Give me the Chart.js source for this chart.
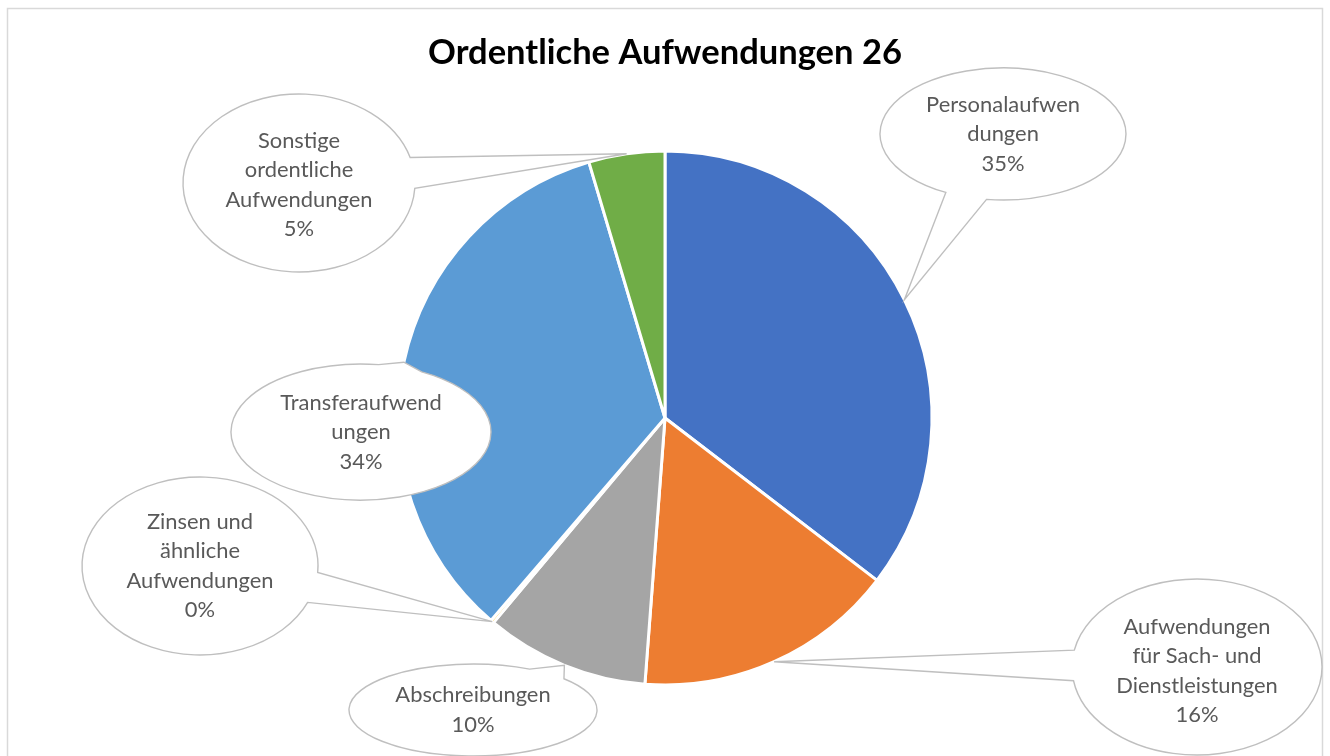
<!DOCTYPE html>
<html>
<head>
<meta charset="utf-8">
<script src="https://cdn.jsdelivr.net/npm/chart.js@4/dist/chart.umd.min.js"></script>
<style>
  html, body { margin: 0; padding: 0; background: #ffffff; }
  #wrap { width: 1330px; height: 756px; }
</style>
</head>
<body>
<div id="wrap"><canvas id="c" width="1330" height="756"></canvas></div>
<script>
// ---- data ----
const chartTitle = 'Ordentliche Aufwendungen 26';
const categories = [
  'Personalaufwendungen',
  'Aufwendungen für Sach- und Dienstleistungen',
  'Abschreibungen',
  'Zinsen und ähnliche Aufwendungen',
  'Transferaufwendungen',
  'Sonstige ordentliche Aufwendungen'
];
const shares = [35.4, 15.8, 9.9, 0.2, 34.1, 4.6];
const labelLines = [
  ['Personalaufwen', 'dungen'],
  ['Aufwendungen', 'für Sach- und', 'Dienstleistungen'],
  ['Abschreibungen'],
  ['Zinsen und', 'ähnliche', 'Aufwendungen'],
  ['Transferaufwend', 'ungen'],
  ['Sonstige', 'ordentliche', 'Aufwendungen']
];

// ---- styles / layout ----
const sliceColors = ['#4472C4', '#ED7D31', '#A5A5A5', '#FFC000', '#5B9BD5', '#70AD47'];
const calloutBoxes = [
  { cx: 1003, cy: 134, rx: 123, ry: 66 },
  { cx: 1197, cy: 667, rx: 125, ry: 88, dy: 4 },
  { cx: 473,  cy: 710, rx: 124, ry: 46 },
  { cx: 200,  cy: 566, rx: 118, ry: 89 },
  { cx: 361,  cy: 432, rx: 130, ry: 68 },
  { cx: 299,  cy: 183, rx: 116, ry: 89, dy: 2 }
];
const FONT = 'Lato';

function fitSize(text, weight, targetW) {
  const m = document.createElement('canvas').getContext('2d');
  m.font = weight + ' 100px ' + FONT;
  return 100 * targetW / m.measureText(text).width;
}
const titleSize = fitSize(chartTitle, 'bold', 474);
const labelSize = fitSize('Aufwendungen', 'normal', 147);

const framePlugin = {
  id: 'frame',
  beforeDraw(chart) {
    const ctx = chart.ctx;
    ctx.save();
    ctx.fillStyle = '#ffffff';
    ctx.fillRect(0, 0, chart.width, chart.height);
    ctx.strokeStyle = '#d9d9d9';
    ctx.lineWidth = 1.5;
    ctx.strokeRect(7.5, 8.5, 1315, 800);
    ctx.restore();
  }
};

const calloutPlugin = {
  id: 'callouts',
  afterDatasetsDraw(chart) {
    const ctx = chart.ctx;
    const meta = chart.getDatasetMeta(0);
    const vals = chart.data.datasets[0].data;
    const total = vals.reduce((a, b) => a + b, 0);
    ctx.save();
    meta.data.forEach((arc, i) => {
      const p = arc.getProps(['x', 'y', 'startAngle', 'endAngle', 'outerRadius'], true);
      const mid = (p.startAngle + p.endAngle) / 2;
      const tx = p.x + Math.cos(mid) * p.outerRadius;
      const ty = p.y + Math.sin(mid) * p.outerRadius;
      const b = calloutBoxes[i];
      const th = Math.atan2((ty - b.cy) / b.ry, (tx - b.cx) / b.rx);
      const d = 10 * Math.PI / 180;
      ctx.beginPath();
      ctx.ellipse(b.cx, b.cy, b.rx, b.ry, 0, th + d, th - d + 2 * Math.PI);
      ctx.lineTo(tx, ty);
      ctx.closePath();
      ctx.fillStyle = '#ffffff';
      ctx.fill();
      ctx.strokeStyle = '#bfbfbf';
      ctx.lineWidth = 1.4;
      ctx.lineJoin = 'miter';
      ctx.stroke();

      const lines = labelLines[i].concat([Math.round(vals[i] / total * 100) + '%']);
      const lh = 29.5;
      ctx.fillStyle = '#595959';
      ctx.font = labelSize.toFixed(2) + 'px ' + FONT;
      ctx.textAlign = 'center';
      ctx.textBaseline = 'middle';
      const y0 = b.cy + (b.dy || 0) - (lines.length - 1) * lh / 2;
      lines.forEach((t, k) => ctx.fillText(t, b.cx, y0 + k * lh));
    });
    ctx.restore();
  }
};

new Chart(document.getElementById('c'), {
  type: 'pie',
  data: {
    labels: categories,
    datasets: [{
      data: shares,
      backgroundColor: sliceColors,
      borderColor: '#ffffff',
      borderWidth: 3,
      radius: 267
    }]
  },
  options: {
    responsive: false,
    animation: false,
    layout: { padding: { top: 0, bottom: 20, left: 0, right: 0 } },
    plugins: {
      legend: { display: false },
      tooltip: { enabled: false },
      title: {
        display: true,
        text: chartTitle,
        color: '#000000',
        font: { family: FONT, weight: 'bold', size: titleSize, lineHeight: 1.2 },
        padding: { top: 53 - 0.6 * titleSize, bottom: 47 - 0.6 * titleSize }
      }
    }
  },
  plugins: [framePlugin, calloutPlugin]
});
</script>
</body>
</html>
